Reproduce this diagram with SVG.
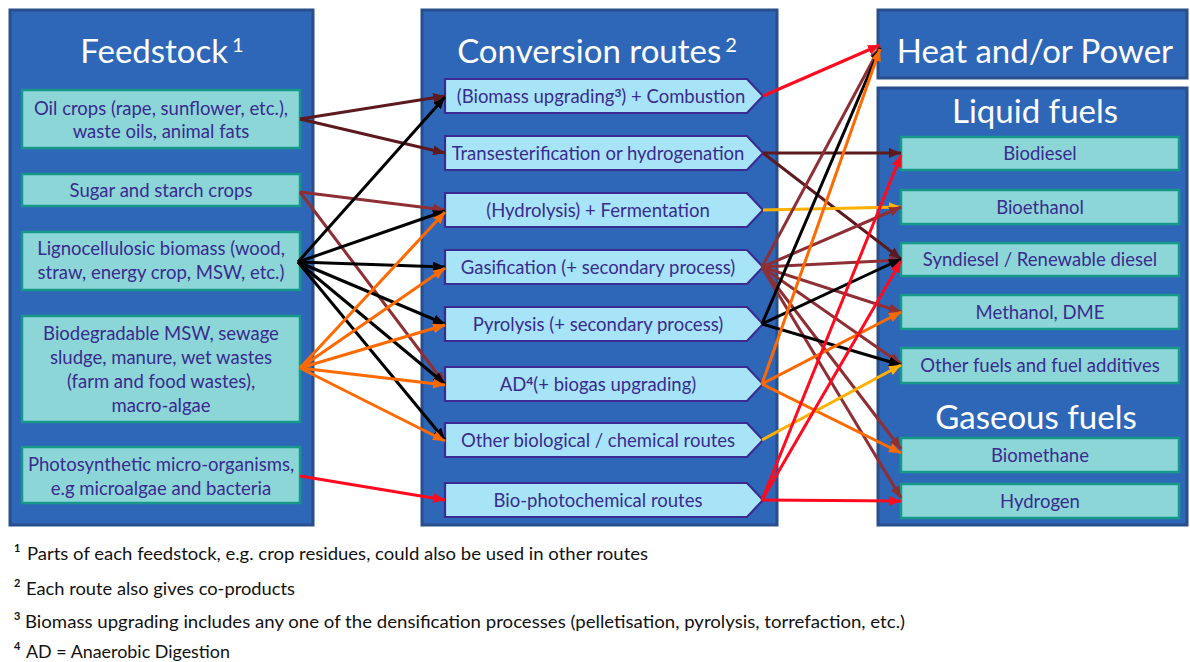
<svg xmlns="http://www.w3.org/2000/svg" width="1190" height="662" viewBox="0 0 1190 662">
<style>
.panel{fill:#2F67B8;stroke:#284F8C;stroke-width:3}
.fbox{fill:#8CD6D8;stroke:#17998A;stroke-width:2.5}
.rbox{fill:#A8E4F8;stroke:#3A2B92;stroke-width:2.2}
.title{font-family:Lato,"Open Sans",sans-serif;font-size:33px;fill:#FFFFFF;text-anchor:middle}
.sup{font-size:20px}
.t{font-family:Lato,"Open Sans",sans-serif;font-size:18.5px;fill:#3A2B8E;text-anchor:middle}
.fn{font-family:Lato,"Liberation Sans",sans-serif;font-size:17px;fill:#111111}
.fs{font-family:Lato,"Liberation Sans",sans-serif;font-size:11px;font-weight:bold;fill:#111111}
.c line{stroke-width:3;fill:none}
.dm{stroke:#5C1A1E}.br{stroke:#8E2F35}.bk{stroke:#000000}.or{stroke:#FF6A00}.am{stroke:#FFB000}.rd{stroke:#FF0A1E}
</style>
<defs>
<marker id="m-dm" markerUnits="userSpaceOnUse" markerWidth="12" markerHeight="10" refX="12" refY="5" orient="auto"><path d="M0,0 L12,5 L0,10 z" fill="#5C1A1E"/></marker>
<marker id="m-br" markerUnits="userSpaceOnUse" markerWidth="12" markerHeight="10" refX="12" refY="5" orient="auto"><path d="M0,0 L12,5 L0,10 z" fill="#8E2F35"/></marker>
<marker id="m-bk" markerUnits="userSpaceOnUse" markerWidth="12" markerHeight="10" refX="12" refY="5" orient="auto"><path d="M0,0 L12,5 L0,10 z" fill="#000000"/></marker>
<marker id="m-or" markerUnits="userSpaceOnUse" markerWidth="12" markerHeight="10" refX="12" refY="5" orient="auto"><path d="M0,0 L12,5 L0,10 z" fill="#FF6A00"/></marker>
<marker id="m-am" markerUnits="userSpaceOnUse" markerWidth="12" markerHeight="10" refX="12" refY="5" orient="auto"><path d="M0,0 L12,5 L0,10 z" fill="#FFB000"/></marker>
<marker id="m-rd" markerUnits="userSpaceOnUse" markerWidth="12" markerHeight="10" refX="12" refY="5" orient="auto"><path d="M0,0 L12,5 L0,10 z" fill="#FF0A1E"/></marker>
</defs>
<rect width="1190" height="662" fill="#FFFFFF"/>

<g id="panel-feedstock">
<rect class="panel" x="10" y="10" width="303" height="515"/>
<text class="title" x="162" y="63">Feedstock<tspan class="sup" dx="4" dy="-11">1</tspan></text>
</g>
<g id="panel-conversion">
<rect class="panel" x="422" y="10" width="355" height="515"/>
<text class="title" x="597" y="63">Conversion routes<tspan class="sup" dx="4" dy="-11">2</tspan></text>
</g>
<g id="panel-heat">
<rect class="panel" x="878" y="10" width="309" height="68"/>
<text class="title" x="1035" y="63">Heat and/or Power</text>
</g>
<g id="panel-fuels">
<rect class="panel" x="878" y="88" width="309" height="437"/>
<text class="title" x="1035" y="123">Liquid fuels</text>
<text class="title" x="1036" y="429">Gaseous fuels</text>
</g>

<g id="f-oil"><rect class="fbox" x="22" y="90" width="278" height="58"/><text class="t" x="161" y="115">Oil crops (rape, sunflower, etc.),</text><text class="t" x="161" y="138">waste oils, animal fats</text></g>
<g id="f-sugar"><rect class="fbox" x="22" y="174" width="278" height="32"/><text class="t" x="161" y="197">Sugar and starch crops</text></g>
<g id="f-ligno"><rect class="fbox" x="22" y="232" width="278" height="58"/><text class="t" x="161" y="255">Lignocellulosic biomass (wood,</text><text class="t" x="161" y="279">straw, energy crop, MSW, etc.)</text></g>
<g id="f-bio"><rect class="fbox" x="22" y="316" width="278" height="106"/><text class="t" x="161" y="340">Biodegradable MSW, sewage</text><text class="t" x="161" y="364">sludge, manure, wet wastes</text><text class="t" x="161" y="388">(farm and food wastes),</text><text class="t" x="161" y="412">macro-algae</text></g>
<g id="f-photo"><rect class="fbox" x="22" y="447" width="278" height="56"/><text class="t" x="161" y="471">Photosynthetic micro-organisms,</text><text class="t" x="161" y="495">e.g microalgae and bacteria</text></g>

<g id="r-comb"><path class="rbox" d="M445,79 H747 L763,96 L747,113 H445 Z"/><text class="t" x="601" y="103">(Biomass upgrading<tspan font-size="12" font-weight="bold" dy="-6">3</tspan><tspan dy="6">) + Combustion</tspan></text></g>
<g id="r-trans"><path class="rbox" d="M445,136 H747 L763,153 L747,170 H445 Z"/><text class="t" x="598" y="160">Transesterification or hydrogenation</text></g>
<g id="r-ferm"><path class="rbox" d="M445,193 H747 L763,210 L747,227 H445 Z"/><text class="t" x="598" y="217">(Hydrolysis) + Fermentation</text></g>
<g id="r-gas"><path class="rbox" d="M445,250 H747 L763,267 L747,284 H445 Z"/><text class="t" x="598" y="274">Gasification (+ secondary process)</text></g>
<g id="r-pyro"><path class="rbox" d="M445,307 H747 L763,324 L747,341 H445 Z"/><text class="t" x="598" y="331">Pyrolysis  (+ secondary process)</text></g>
<g id="r-ad"><path class="rbox" d="M445,367 H747 L763,384 L747,401 H445 Z"/><text class="t" x="598" y="391">AD<tspan font-size="12" font-weight="bold" dy="-6">4</tspan><tspan dy="6">(+ biogas upgrading)</tspan></text></g>
<g id="r-other"><path class="rbox" d="M445,423 H747 L763,440 L747,457 H445 Z"/><text class="t" x="598" y="447">Other biological / chemical routes</text></g>
<g id="r-photo"><path class="rbox" d="M445,483 H747 L763,500 L747,517 H445 Z"/><text class="t" x="598" y="507">Bio-photochemical routes</text></g>

<g id="o-biodiesel"><rect class="fbox" x="901" y="137" width="278" height="33"/><text class="t" x="1040" y="160">Biodiesel</text></g>
<g id="o-bioethanol"><rect class="fbox" x="901" y="190" width="278" height="34"/><text class="t" x="1040" y="214">Bioethanol</text></g>
<g id="o-syndiesel"><rect class="fbox" x="901" y="243" width="278" height="33"/><text class="t" x="1040" y="266">Syndiesel / Renewable diesel</text></g>
<g id="o-methanol"><rect class="fbox" x="901" y="295" width="278" height="34"/><text class="t" x="1040" y="319">Methanol, DME</text></g>
<g id="o-otherfuels"><rect class="fbox" x="901" y="348" width="278" height="35"/><text class="t" x="1040" y="372">Other fuels and fuel additives</text></g>
<g id="o-biomethane"><rect class="fbox" x="901" y="438" width="278" height="34"/><text class="t" x="1040" y="462">Biomethane</text></g>
<g id="o-hydrogen"><rect class="fbox" x="901" y="484" width="278" height="34"/><text class="t" x="1040" y="508">Hydrogen</text></g>

<g id="connectors" class="c">
<line class="dm" x1="300" y1="119" x2="445" y2="96" marker-end="url(#m-dm)"/>
<line class="dm" x1="300" y1="119" x2="445" y2="153" marker-end="url(#m-dm)"/>
<line class="br" x1="300" y1="192" x2="445" y2="210" marker-end="url(#m-br)"/>
<line class="br" x1="300" y1="192" x2="445" y2="384" marker-end="url(#m-br)"/>
<line class="bk" x1="298" y1="262" x2="445" y2="97" marker-end="url(#m-bk)"/>
<line class="bk" x1="298" y1="262" x2="445" y2="211" marker-end="url(#m-bk)"/>
<line class="bk" x1="298" y1="262" x2="445" y2="267" marker-end="url(#m-bk)"/>
<line class="bk" x1="298" y1="262" x2="445" y2="324" marker-end="url(#m-bk)"/>
<line class="bk" x1="298" y1="262" x2="445" y2="384" marker-end="url(#m-bk)"/>
<line class="bk" x1="298" y1="262" x2="445" y2="440" marker-end="url(#m-bk)"/>
<line class="or" x1="300" y1="368" x2="445" y2="212" marker-end="url(#m-or)"/>
<line class="or" x1="300" y1="368" x2="445" y2="268" marker-end="url(#m-or)"/>
<line class="or" x1="300" y1="368" x2="445" y2="325" marker-end="url(#m-or)"/>
<line class="or" x1="300" y1="368" x2="445" y2="385" marker-end="url(#m-or)"/>
<line class="or" x1="300" y1="368" x2="445" y2="441" marker-end="url(#m-or)"/>
<line class="rd" x1="300" y1="476" x2="445" y2="500" marker-end="url(#m-rd)"/>

<line class="rd" x1="763" y1="96" x2="880" y2="45" marker-end="url(#m-rd)"/>
<line class="dm" x1="763" y1="153" x2="901" y2="153" marker-end="url(#m-dm)"/>
<line class="dm" x1="763" y1="153" x2="901" y2="259" marker-end="url(#m-dm)"/>
<line class="am" x1="763" y1="210" x2="901" y2="207" marker-end="url(#m-am)"/>
<line class="br" x1="762" y1="267" x2="880" y2="47" marker-end="url(#m-br)"/>
<line class="br" x1="762" y1="267" x2="901" y2="207" marker-end="url(#m-br)"/>
<line class="br" x1="762" y1="267" x2="901" y2="260" marker-end="url(#m-br)"/>
<line class="br" x1="762" y1="267" x2="901" y2="312" marker-end="url(#m-br)"/>
<line class="br" x1="762" y1="267" x2="901" y2="364" marker-end="url(#m-br)"/>
<line class="br" x1="762" y1="267" x2="901" y2="449" marker-end="url(#m-br)"/>
<line class="br" x1="762" y1="267" x2="901" y2="498" marker-end="url(#m-br)"/>
<line class="bk" x1="762" y1="324" x2="880" y2="48" marker-end="url(#m-bk)"/>
<line class="bk" x1="762" y1="324" x2="901" y2="259" marker-end="url(#m-bk)"/>
<line class="bk" x1="762" y1="324" x2="901" y2="365" marker-end="url(#m-bk)"/>
<line class="or" x1="762" y1="384" x2="880" y2="49" marker-end="url(#m-or)"/>
<line class="or" x1="762" y1="384" x2="901" y2="312" marker-end="url(#m-or)"/>
<line class="or" x1="762" y1="384" x2="901" y2="453" marker-end="url(#m-or)"/>
<line class="am" x1="762" y1="440" x2="901" y2="365" marker-end="url(#m-am)"/>
<line class="rd" x1="762" y1="500" x2="901" y2="155" marker-end="url(#m-rd)"/>
<line class="rd" x1="762" y1="500" x2="901" y2="261" marker-end="url(#m-rd)"/>
<line class="rd" x1="762" y1="500" x2="901" y2="501" marker-end="url(#m-rd)"/>
</g>

<g id="footnotes">
<text class="fs" x="14" y="552">1</text><text class="fn" x="27" y="560" textLength="621" lengthAdjust="spacingAndGlyphs">Parts of each feedstock, e.g. crop residues, could also be used in other routes</text>
<text class="fs" x="14" y="587">2</text><text class="fn" x="26" y="595" textLength="269" lengthAdjust="spacingAndGlyphs">Each route also gives co-products</text>
<text class="fs" x="14" y="620">3</text><text class="fn" x="25" y="628" textLength="880" lengthAdjust="spacingAndGlyphs">Biomass upgrading includes any one of the densification processes (pelletisation, pyrolysis,  torrefaction, etc.)</text>
<text class="fs" x="14" y="650">4</text><text class="fn" x="26" y="658" textLength="204" lengthAdjust="spacingAndGlyphs">AD = Anaerobic Digestion</text>
</g>
</svg>
